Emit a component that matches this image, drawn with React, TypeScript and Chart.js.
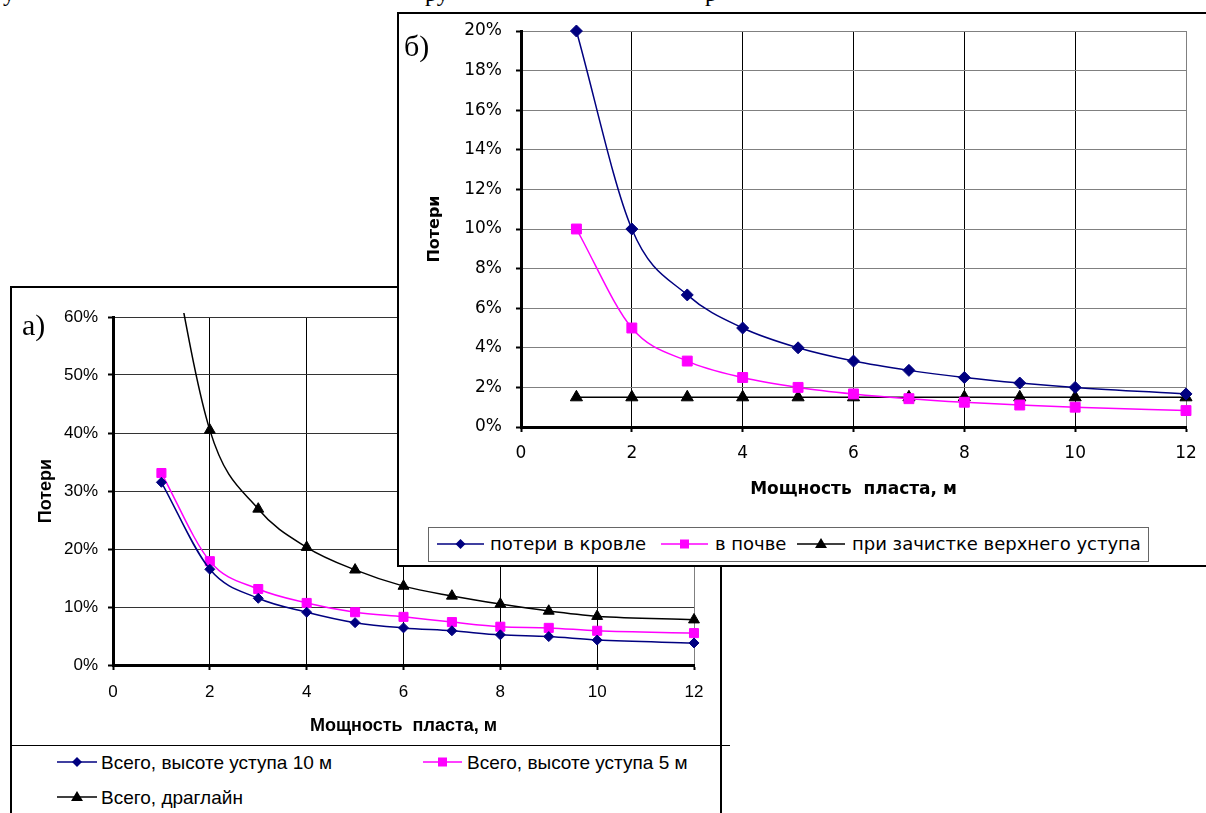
import React, { useEffect, useRef } from 'react';
import { Chart, registerables } from 'chart.js';

Chart.register(...registerables);

// ---- data ----
const thicknessM = [1, 2, 3, 4, 5, 6, 7, 8, 9, 10, 12];

// chart а)
const totalBench10 = [31.5, 16.5, 11.5, 9.1, 7.3, 6.4, 5.9, 5.2, 4.9, 4.3, 3.8];
const totalBench5 = [33.1, 17.9, 13.1, 10.7, 9.1, 8.3, 7.4, 6.6, 6.4, 5.9, 5.5];
const totalDragline = [81, 40.5, 26.9, 20.3, 16.4, 13.6, 11.9, 10.5, 9.3, 8.4, 7.8];

// chart б)
const lossRoof = [20, 10, 6.67, 5, 4, 3.33, 2.86, 2.5, 2.22, 2.0, 1.67];
const lossFloor = [10, 5, 3.33, 2.5, 2.0, 1.67, 1.43, 1.25, 1.11, 1.0, 0.83];
const lossUpperBench = [1.5, 1.5, 1.5, 1.5, 1.5, 1.5, 1.5, 1.5, 1.5, 1.5, 1.5];

const xAxisTitle = 'Мощность  пласта, м';
const yAxisTitle = 'Потери';
const legendA = ['Всего, высоте уступа 10 м', 'Всего, высоте уступа 5 м', 'Всего, драглайн'];
const legendB = ['потери в кровле', 'в почве', 'при зачистке верхнего уступа'];

const NAVY = '#000080';
const MAGENTA = '#FF00FF';
const BLACK = '#000000';

const pts = (ys: number[]) => ys.map((y, i) => ({ x: thicknessM[i], y }));

type ChartParams = {
  datasets: any[];
  yMax: number;
  yStep: number;
  family: string;
  tickSize: number;
  titleSize: number;
  yTitleSize: number;
  padTop: number;
  padRight: number;
  yWidth: number;
  xHeight: number;
  yTickPad: number;
  xTickPad: number;
  yTitlePad: number;
  xTitlePad: number;
  hGrid: string;
};

function makeConfig(p: ChartParams): any {
  return {
    type: 'line',
    data: { datasets: p.datasets },
    options: {
      animation: false,
      responsive: false,
      maintainAspectRatio: false,
      events: [],
      layout: { padding: { left: 0, top: p.padTop, right: p.padRight, bottom: 0 } },
      plugins: { legend: { display: false }, tooltip: { enabled: false }, title: { display: false } },
      scales: {
        x: {
          type: 'linear',
          min: 0,
          max: 12,
          ticks: {
            stepSize: 2,
            color: '#000',
            font: { family: p.family, size: p.tickSize },
            padding: p.xTickPad,
            maxRotation: 0,
            autoSkip: false,
          },
          grid: {
            color: (ctx: any) => (ctx.tick && ctx.tick.value === 12 ? '#808080' : '#000'),
            lineWidth: 1,
            tickLength: 5,
            tickColor: '#000',
            tickWidth: 2,
          },
          border: { color: '#000', width: 3 },
          title: {
            display: true,
            text: xAxisTitle,
            color: '#000',
            font: { family: p.family, size: p.titleSize, weight: 'bold' },
            padding: { top: 0, bottom: p.xTitlePad },
          },
          afterFit: (s: any) => {
            s.height = p.xHeight;
            s.paddingLeft = 0;
            s.paddingRight = 0;
          },
        },
        y: {
          type: 'linear',
          min: 0,
          max: p.yMax,
          ticks: {
            stepSize: p.yStep,
            color: '#000',
            font: { family: p.family, size: p.tickSize },
            padding: p.yTickPad,
            callback: (v: any) => v + '%',
          },
          grid: {
            color: p.hGrid,
            lineWidth: 1,
            tickLength: 5,
            tickColor: '#000',
            tickWidth: 2,
          },
          border: { color: '#000', width: 3 },
          title: {
            display: true,
            text: yAxisTitle,
            color: '#000',
            font: { family: p.family, size: p.yTitleSize, weight: 'bold' },
            padding: { top: p.yTitlePad, bottom: 0 },
          },
          afterFit: (s: any) => {
            s.width = p.yWidth;
            s.paddingTop = 0;
            s.paddingBottom = 0;
          },
        },
      },
    },
  };
}

function ds(data: number[], color: string, style: string, radius: number, clip: any) {
  return {
    data: pts(data),
    borderColor: color,
    backgroundColor: color,
    pointBackgroundColor: color,
    pointBorderColor: color,
    pointStyle: style,
    pointRadius: radius,
    pointBorderWidth: 1,
    borderWidth: 1.5,
    cubicInterpolationMode: 'monotone',
    fill: false,
    clip,
  };
}

const CHART_A_FONT = "'Liberation Sans', Arial, sans-serif";
const CHART_B_FONT = "'DejaVu Sans', Verdana, sans-serif";

function LegendMarker({ shape, color, w }: { shape: string; color: string; w: number }) {
  const cx = w / 2;
  const cy = 8;
  let m: any = null;
  if (shape === 'diamond') m = <polygon points={`${cx},${cy - 5} ${cx + 5},${cy} ${cx},${cy + 5} ${cx - 5},${cy}`} fill={color} />;
  if (shape === 'square') m = <rect x={cx - 4.5} y={cy - 4.5} width={9} height={9} fill={color} />;
  if (shape === 'triangle') m = <polygon points={`${cx},${cy - 6} ${cx + 6},${cy + 4} ${cx - 6},${cy + 4}`} fill={color} />;
  return (
    <svg width={w} height={16} style={{ display: 'block' }}>
      <line x1={0} y1={cy} x2={w} y2={cy} stroke={color} strokeWidth={1.5} />
      {m}
    </svg>
  );
}

function LegendItem(props: { x1: number; x2: number; tx: number; cy: number; color: string; shape: string; text: string; font: string; size: number }) {
  const { x1, x2, tx, cy, color, shape, text, font, size } = props;
  const lh = Math.round(size * 1.2);
  return (
    <>
      <div style={{ position: 'absolute', left: x1, top: cy - 8 }}>
        <LegendMarker shape={shape} color={color} w={x2 - x1} />
      </div>
      <div style={{ position: 'absolute', left: tx, top: cy - lh / 2, fontFamily: font, fontSize: size, lineHeight: lh + 'px', whiteSpace: 'pre', color: '#000' }}>{text}</div>
    </>
  );
}

export default function App() {
  const refA = useRef<HTMLCanvasElement>(null);
  const refB = useRef<HTMLCanvasElement>(null);

  useEffect(() => {
    const clipAll = { left: 12, right: 12, top: 12, bottom: 12 };
    const chartA = new Chart(
      refA.current as HTMLCanvasElement,
      makeConfig({
        datasets: [
          ds(totalBench10, NAVY, 'rectRot', 5, clipAll),
          ds(totalBench5, MAGENTA, 'rect', 6.4, clipAll),
          ds(totalDragline, BLACK, 'triangle', 6.3, { left: 12, right: 12, top: 4, bottom: 12 }),
        ],
        yMax: 60,
        yStep: 10,
        family: CHART_A_FONT,
        tickSize: 17,
        titleSize: 18,
        yTitleSize: 18,
        padTop: 29,
        padRight: 24,
        yWidth: 101,
        xHeight: 80,
        yTickPad: 10,
        xTickPad: 12,
        yTitlePad: 23,
        xTitlePad: 8,
        hGrid: '#333333',
      })
    );
    const chartB = new Chart(
      refB.current as HTMLCanvasElement,
      makeConfig({
        datasets: [
          ds(lossRoof, NAVY, 'rectRot', 6, clipAll),
          ds(lossFloor, MAGENTA, 'rect', 7, clipAll),
          ds(lossUpperBench, BLACK, 'triangle', 7, clipAll),
        ],
        yMax: 20,
        yStep: 2,
        family: CHART_B_FONT,
        tickSize: 17,
        titleSize: 17,
        yTitleSize: 16,
        padTop: 16,
        padRight: 20,
        yWidth: 122,
        xHeight: 93,
        yTickPad: 14,
        xTickPad: 11,
        yTitlePad: 26,
        xTitlePad: 20,
        hGrid: '#808080',
      })
    );
    return () => {
      chartA.destroy();
      chartB.destroy();
    };
  }, []);

  const serif = "'Liberation Serif', 'Times New Roman', serif";

  return (
    <div style={{ position: 'fixed', left: 0, top: 0, width: 1206, height: 813, overflow: 'hidden', background: '#fff' }}>
      {/* cut-off text line above */}
      <div style={{ position: 'absolute', left: 3, top: -19, fontFamily: serif, fontSize: 24, lineHeight: '24px' }}>у</div>
      <div style={{ position: 'absolute', left: 425, top: -19, fontFamily: serif, fontSize: 24, lineHeight: '24px' }}>ру</div>
      <div style={{ position: 'absolute', left: 705, top: -19, fontFamily: serif, fontSize: 24, lineHeight: '24px' }}>р</div>

      {/* chart а) */}
      <div
        style={{
          position: 'absolute',
          left: 10,
          top: 286,
          width: 712,
          height: 600,
          boxSizing: 'border-box',
          borderLeft: '2px solid #000',
          borderTop: '2px solid #000',
          borderRight: '2px solid #000',
          background: '#fff',
        }}
      />
      <canvas ref={refA} width={706} height={457} style={{ position: 'absolute', left: 12, top: 288, width: 706, height: 457 }} />
      <div style={{ position: 'absolute', left: 10, top: 745, width: 720, height: 0, borderTop: '1px solid #000' }} />
      <LegendItem x1={57} x2={97} tx={101} cy={762} color={NAVY} shape="diamond" text={legendA[0]} font={CHART_A_FONT} size={19} />
      <LegendItem x1={423} x2={462} tx={467} cy={762} color={MAGENTA} shape="square" text={legendA[1]} font={CHART_A_FONT} size={19} />
      <LegendItem x1={57} x2={97} tx={101} cy={797} color={BLACK} shape="triangle" text={legendA[2]} font={CHART_A_FONT} size={19} />
      <div style={{ position: 'absolute', left: 22, top: 310, fontFamily: serif, fontSize: 30, lineHeight: '30px' }}>а)</div>

      {/* chart б) */}
      <div
        style={{
          position: 'absolute',
          left: 397,
          top: 12,
          width: 809,
          height: 555,
          boxSizing: 'border-box',
          borderLeft: '2px solid #000',
          borderTop: '2px solid #000',
          borderBottom: '2px solid #000',
          background: '#fff',
        }}
      />
      <canvas ref={refB} width={807} height={505} style={{ position: 'absolute', left: 399, top: 15, width: 807, height: 505 }} />
      <div style={{ position: 'absolute', left: 428, top: 527, width: 721, height: 35, boxSizing: 'border-box', border: '1px solid #666' }} />
      <LegendItem x1={437} x2={484} tx={490} cy={544} color={NAVY} shape="diamond" text={legendB[0]} font={CHART_B_FONT} size={18} />
      <LegendItem x1={661} x2={708} tx={715} cy={544} color={MAGENTA} shape="square" text={legendB[1]} font={CHART_B_FONT} size={18} />
      <LegendItem x1={797} x2={845} tx={852} cy={544} color={BLACK} shape="triangle" text={legendB[2]} font={CHART_B_FONT} size={18} />
      <div style={{ position: 'absolute', left: 404, top: 31, fontFamily: serif, fontSize: 30, lineHeight: '30px' }}>б)</div>
    </div>
  );
}
